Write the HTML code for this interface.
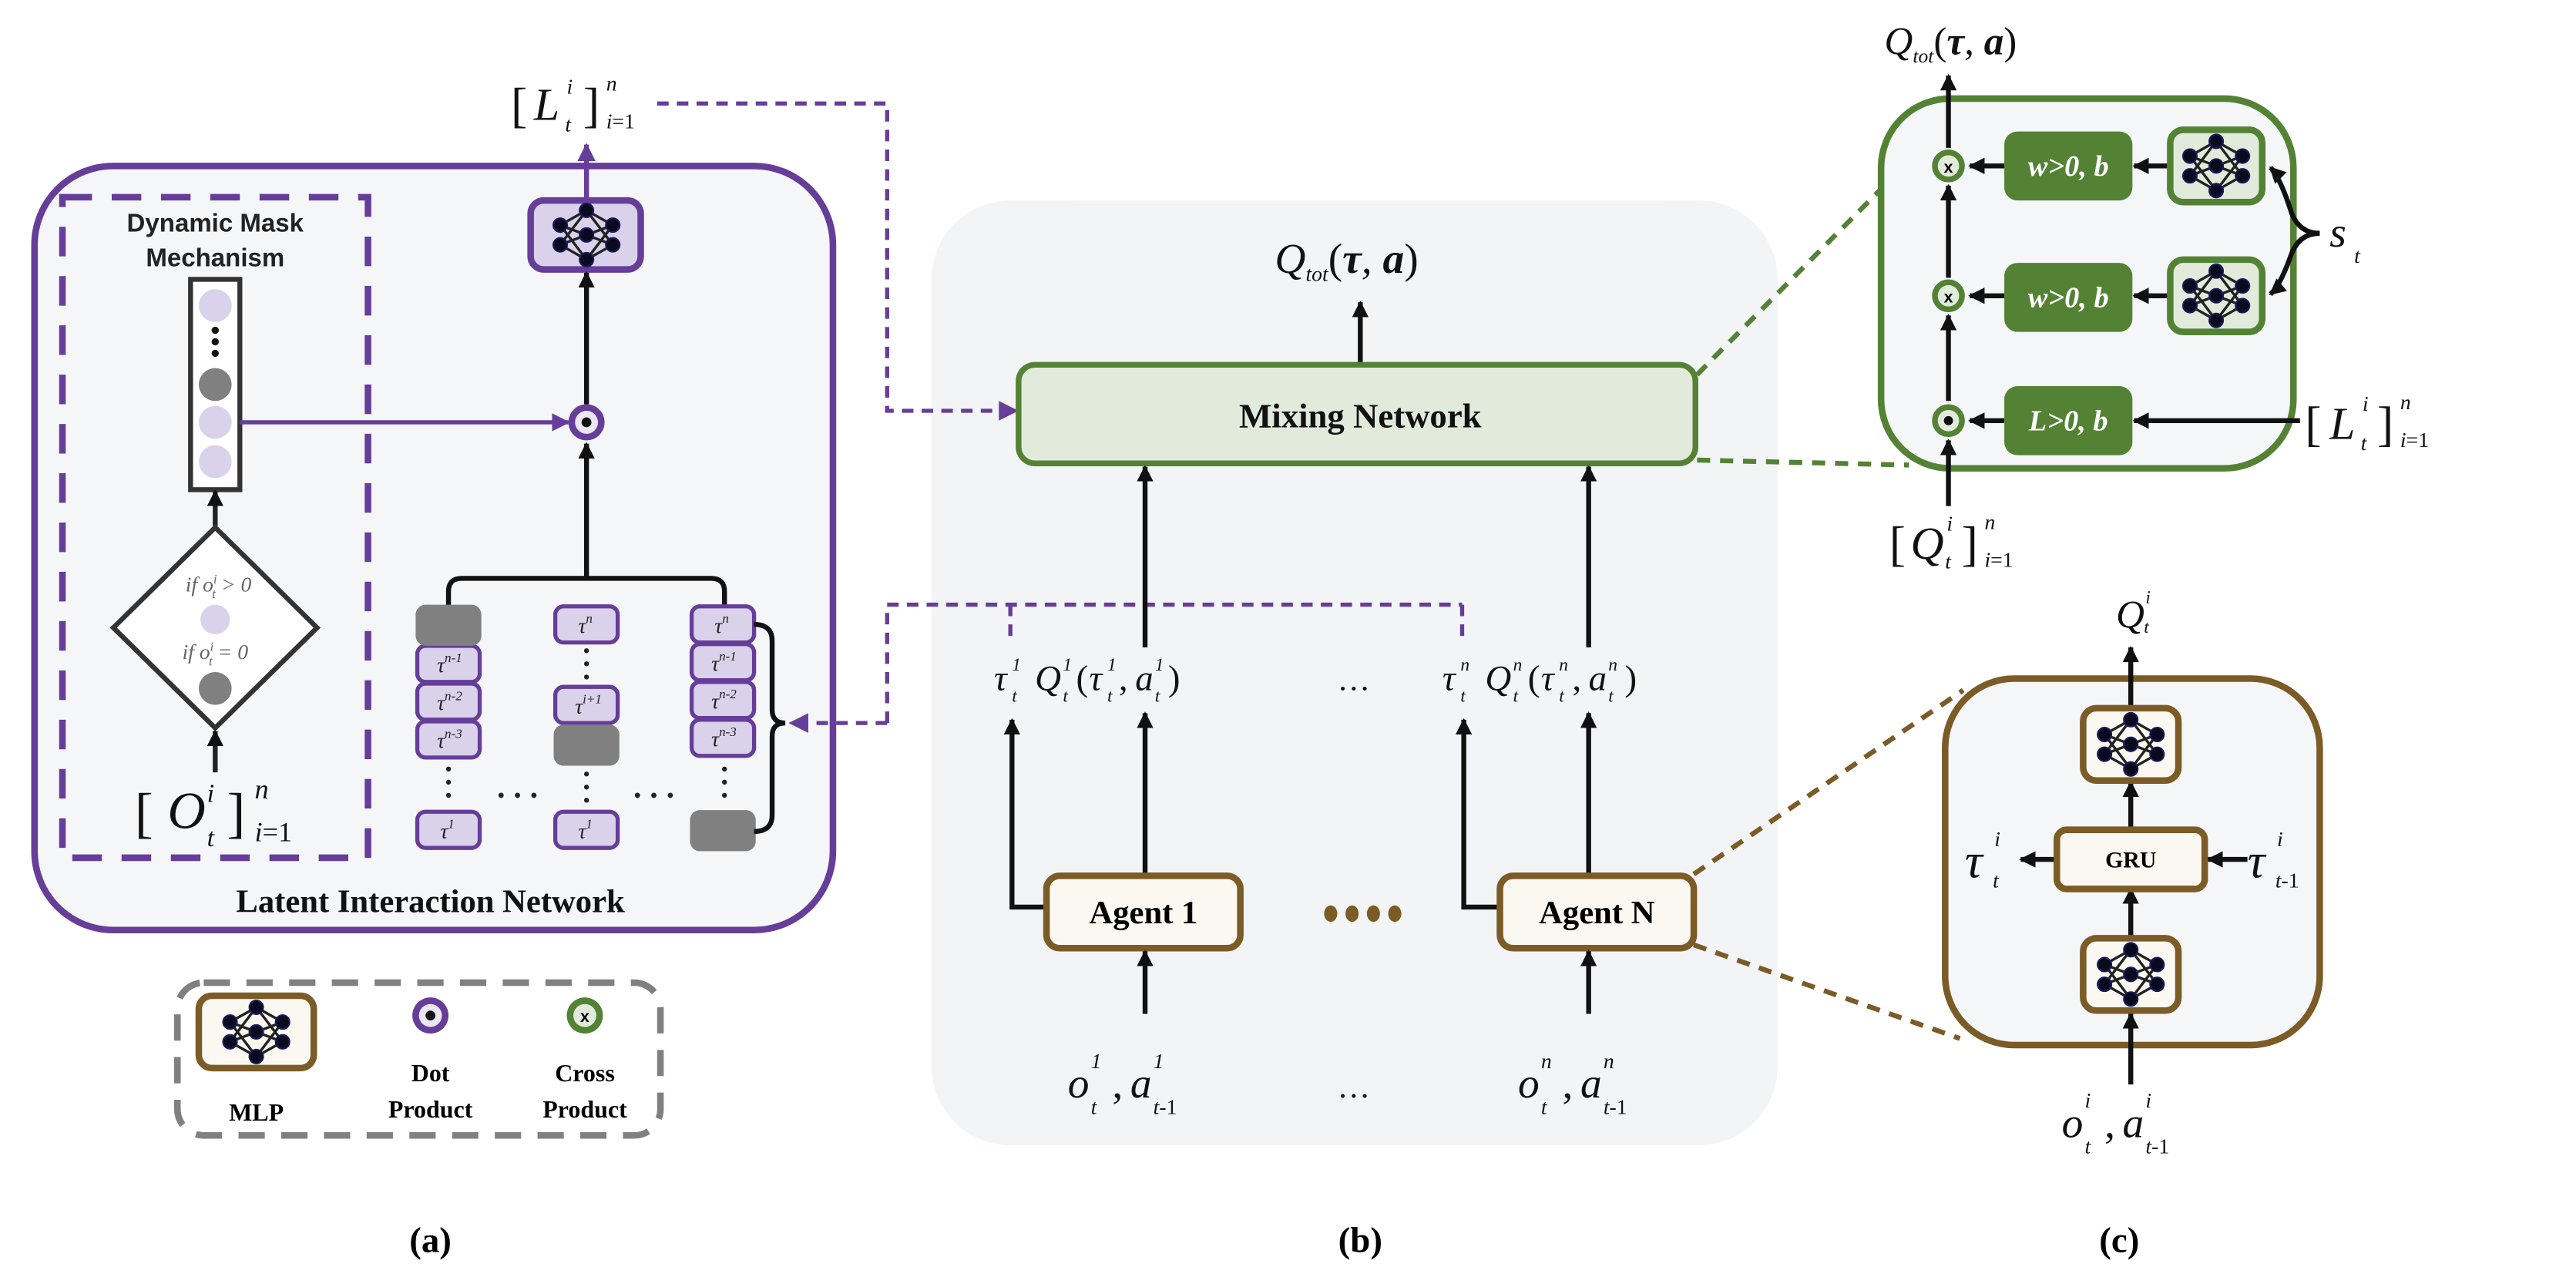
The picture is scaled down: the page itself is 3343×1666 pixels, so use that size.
<!DOCTYPE html>
<html><head><meta charset="utf-8"><style>
html,body{margin:0;padding:0;background:#fff;}
svg{display:block;}
.s{font-family:"Liberation Serif",serif;}
.i{font-family:"Liberation Serif",serif;font-style:italic;}
.b{font-family:"Liberation Serif",serif;font-weight:bold;}
.sans{font-family:"Liberation Sans",sans-serif;font-weight:bold;}
</style></head><body>
<svg width="3343" height="1666" viewBox="0 0 1568 781.4" preserveAspectRatio="none" xmlns="http://www.w3.org/2000/svg">
<defs>
<marker id="ak" markerWidth="10" markerHeight="10" refX="9" refY="5" orient="auto" markerUnits="userSpaceOnUse"><path d="M0,0 L10,5 L0,10 z" fill="#111"/></marker>
<marker id="ap" markerWidth="11" markerHeight="11" refX="10" refY="5.5" orient="auto" markerUnits="userSpaceOnUse"><path d="M0,0 L11,5.5 L0,11 z" fill="#663d99"/></marker>
<g id="nn">
<g stroke="#222" stroke-width="1.6" fill="none">
<path d="M-16,-6 L0,-15 M-16,-6 L0,0 M-16,-6 L0,15 M-16,6 L0,-15 M-16,6 L0,0 M-16,6 L0,15 M16,-6 L0,-15 M16,-6 L0,0 M16,-6 L0,15 M16,6 L0,-15 M16,6 L0,0 M16,6 L0,15"/>
</g>
<g fill="#0a0a1e" stroke="#1a1a5a" stroke-width="1">
<circle cx="-16" cy="-6" r="4.2"/><circle cx="-16" cy="6" r="4.2"/>
<circle cx="0" cy="-15" r="4.2"/><circle cx="0" cy="0" r="4.2"/><circle cx="0" cy="15" r="4.2"/>
<circle cx="16" cy="-6" r="4.2"/><circle cx="16" cy="6" r="4.2"/>
</g>
</g>
</defs>

<!-- ===== Panel (b) background ===== -->
<rect x="567" y="122" width="515" height="575" rx="48" fill="#f3f4f6"/>

<!-- ===== Panel (a) ===== -->
<rect x="21" y="101" width="486" height="465" rx="48" fill="#f5f6f8" stroke="#663d99" stroke-width="4"/>
<rect x="38" y="120" width="186" height="402" fill="none" stroke="#663d99" stroke-width="4" stroke-dasharray="18,12"/>
<text x="131" y="141" text-anchor="middle" class="sans" font-size="15.5" fill="#222">Dynamic Mask</text>
<text x="131" y="162" text-anchor="middle" class="sans" font-size="15.5" fill="#222">Mechanism</text>
<rect x="116" y="170" width="30" height="128" fill="#fff" stroke="#333" stroke-width="3"/>
<circle cx="131" cy="186" r="10" fill="#d9d2ea"/>
<circle cx="131" cy="201" r="2.2" fill="#111"/><circle cx="131" cy="208" r="2.2" fill="#111"/><circle cx="131" cy="215" r="2.2" fill="#111"/>
<circle cx="131" cy="234" r="10" fill="#808080"/>
<circle cx="131" cy="257" r="10" fill="#d9d2ea"/>
<circle cx="131" cy="281" r="10" fill="#d9d2ea"/>
<line x1="146" y1="257" x2="346" y2="257" stroke="#663d99" stroke-width="2.5" marker-end="url(#ap)"/>
<line x1="131" y1="320" x2="131" y2="299" stroke="#222" stroke-width="3" marker-end="url(#ak)"/>
<polygon points="131,321 193,382 131,443 69,382" fill="#fff" stroke="#333" stroke-width="3"/>
<text x="133" y="360" text-anchor="middle" class="i" font-size="13" fill="#666">if o<tspan font-size="8" dy="-5">i</tspan><tspan font-size="8" dy="9" dx="-3">t</tspan><tspan dy="-4"> &gt; 0</tspan></text>
<circle cx="131" cy="377" r="9" fill="#d9d2ea"/>
<text x="131" y="401" text-anchor="middle" class="i" font-size="13" fill="#666">if o<tspan font-size="8" dy="-5">i</tspan><tspan font-size="8" dy="9" dx="-3">t</tspan><tspan dy="-4"> = 0</tspan></text>
<circle cx="131" cy="419" r="10" fill="#808080"/>
<line x1="131" y1="470" x2="131" y2="445" stroke="#222" stroke-width="3" marker-end="url(#ak)"/>
<text x="82" y="506" class="s" font-size="34" fill="#111">[</text>
<text x="102" y="504" class="i" font-size="32" fill="#111">O</text>
<text x="126" y="488" class="i" font-size="16" fill="#111">i</text>
<text x="126" y="515" class="i" font-size="16" fill="#111">t</text>
<text x="138" y="506" class="s" font-size="34" fill="#111">]</text>
<text x="155" y="486" class="i" font-size="17" fill="#111">n</text>
<text x="155" y="512" class="i" font-size="17" fill="#111">i<tspan class="s" font-style="normal">=1</tspan></text>

<rect x="323" y="122" width="67" height="42" rx="8" fill="#d9d2ea" stroke="#663d99" stroke-width="4"/>
<use href="#nn" x="357" y="143"/>
<line x1="357" y1="122" x2="357" y2="88" stroke="#663d99" stroke-width="3" marker-end="url(#ap)"/>
<line x1="357" y1="246" x2="357" y2="166" stroke="#111" stroke-width="3" marker-end="url(#ak)"/>
<circle cx="357" cy="257" r="11" fill="#663d99"/>
<circle cx="357" cy="257" r="7" fill="#ebe5f4"/>
<circle cx="357" cy="257" r="3" fill="#111"/>
<line x1="357" y1="352" x2="357" y2="270" stroke="#111" stroke-width="3" marker-end="url(#ak)"/>
<path d="M273 369 V360 Q273 352 281 352 H433 Q441 352 441 360 V369" fill="none" stroke="#111" stroke-width="3"/>
<text x="311" y="74" class="s" font-size="30" fill="#111">[</text>
<text x="325" y="73" class="i" font-size="28" fill="#111">L</text>
<text x="345" y="57" class="i" font-size="13" fill="#111">i</text>
<text x="344" y="80" class="i" font-size="13" fill="#111">t</text>
<text x="355" y="74" class="s" font-size="30" fill="#111">]</text>
<text x="369" y="55" class="i" font-size="13" fill="#111">n</text>
<text x="369" y="78" class="i" font-size="13" fill="#111">i<tspan class="s" font-style="normal">=1</tspan></text>

<g stroke="#663d99" stroke-width="2.5" fill="#d9d2ea">
<rect x="254" y="393" width="38" height="22" rx="5"/>
<rect x="254" y="416" width="38" height="22" rx="5"/>
<rect x="254" y="439" width="38" height="22" rx="5"/>
<rect x="254" y="494" width="38" height="22" rx="5"/>
<rect x="338" y="369" width="38" height="22" rx="5"/>
<rect x="338" y="418" width="38" height="22" rx="5"/>
<rect x="338" y="494" width="38" height="22" rx="5"/>
<rect x="421" y="369" width="38" height="22" rx="5"/>
<rect x="421" y="392" width="38" height="22" rx="5"/>
<rect x="421" y="415" width="38" height="22" rx="5"/>
<rect x="421" y="438" width="38" height="22" rx="5"/>
</g>
<g fill="#808080">
<rect x="253" y="368" width="40" height="25" rx="6"/>
<rect x="337" y="441" width="40" height="25" rx="6"/>
<rect x="420" y="493" width="40" height="25" rx="6"/>
</g>
<g class="i" font-size="13" fill="#222">
<text x="266" y="409">τ<tspan font-size="8" dy="-6">n-1</tspan></text>
<text x="266" y="432">τ<tspan font-size="8" dy="-6">n-2</tspan></text>
<text x="266" y="455">τ<tspan font-size="8" dy="-6">n-3</tspan></text>
<text x="268" y="510">τ<tspan font-size="8" dy="-6">1</tspan></text>
<text x="352" y="385">τ<tspan font-size="8" dy="-6">n</tspan></text>
<text x="350" y="434">τ<tspan font-size="8" dy="-6">i+1</tspan></text>
<text x="352" y="510">τ<tspan font-size="8" dy="-6">1</tspan></text>
<text x="435" y="385">τ<tspan font-size="8" dy="-6">n</tspan></text>
<text x="433" y="408">τ<tspan font-size="8" dy="-6">n-1</tspan></text>
<text x="433" y="431">τ<tspan font-size="8" dy="-6">n-2</tspan></text>
<text x="433" y="454">τ<tspan font-size="8" dy="-6">n-3</tspan></text>
</g>
<g fill="#222">
<circle cx="273" cy="468" r="1.5"/><circle cx="273" cy="476" r="1.5"/><circle cx="273" cy="484" r="1.5"/>
<circle cx="357" cy="396" r="1.5"/><circle cx="357" cy="404" r="1.5"/><circle cx="357" cy="412" r="1.5"/>
<circle cx="357" cy="471" r="1.5"/><circle cx="357" cy="479" r="1.5"/><circle cx="357" cy="487" r="1.5"/>
<circle cx="441" cy="468" r="1.5"/><circle cx="441" cy="476" r="1.5"/><circle cx="441" cy="484" r="1.5"/>
<circle cx="305" cy="484" r="1.6"/><circle cx="315" cy="484" r="1.6"/><circle cx="325" cy="484" r="1.6"/>
<circle cx="388" cy="484" r="1.6"/><circle cx="398" cy="484" r="1.6"/><circle cx="408" cy="484" r="1.6"/>
</g>
<path d="M459 380 Q470 380 470 390 V432 Q470 440 478 440 Q470 440 470 448 V496 Q470 506 459 506" fill="none" stroke="#111" stroke-width="3"/>
<text x="262" y="555" text-anchor="middle" class="b" font-size="20" fill="#111">Latent Interaction Network</text>

<!-- purple dashed connectors -->
<g fill="none" stroke="#663d99" stroke-width="2.5" stroke-dasharray="7,5">
<path d="M400 63 H540 V250 H610"/>
<path d="M540 440 V368 H890"/>
<path d="M540 440 H486"/>
<path d="M615 368 V392"/>
<path d="M890 368 V392"/>
</g>
<path d="M480 440 L492 434 L492 446 z" fill="#663d99"/>
<path d="M620 250 L608 244 L608 256 z" fill="#663d99"/>

<!-- Legend -->
<rect x="108" y="598" width="294" height="93" rx="16" fill="#fff" stroke="#808080" stroke-width="4" stroke-dasharray="16,10"/>
<rect x="121" y="606" width="70" height="44" rx="8" fill="#fbf8f2" stroke="#7b5b26" stroke-width="4"/>
<use href="#nn" x="156" y="628"/>
<text x="156" y="682" text-anchor="middle" class="b" font-size="15">MLP</text>
<circle cx="262" cy="618" r="11" fill="#663d99"/><circle cx="262" cy="618" r="7" fill="#ebe5f4"/><circle cx="262" cy="618" r="3" fill="#111"/>
<text x="262" y="658" text-anchor="middle" class="b" font-size="15">Dot</text>
<text x="262" y="680" text-anchor="middle" class="b" font-size="15">Product</text>
<circle cx="356" cy="618" r="11" fill="#548235"/><circle cx="356" cy="618" r="7" fill="#e2ebdb"/>
<text x="356" y="622" text-anchor="middle" class="sans" font-size="10">x</text>
<text x="356" y="658" text-anchor="middle" class="b" font-size="15">Cross</text>
<text x="356" y="680" text-anchor="middle" class="b" font-size="15">Product</text>

<text x="262" y="762" text-anchor="middle" class="b" font-size="22">(a)</text>
<text x="828" y="762" text-anchor="middle" class="b" font-size="22">(b)</text>
<text x="1290" y="762" text-anchor="middle" class="b" font-size="22">(c)</text>

<!-- ===== Panel (b) content ===== -->
<text x="776" y="166" class="i" font-size="26" fill="#111">Q<tspan font-size="13" dy="5">tot</tspan><tspan dy="-5" font-style="normal">(</tspan><tspan font-weight="bold">τ</tspan>, <tspan font-weight="bold">a</tspan><tspan font-style="normal">)</tspan></text>
<line x1="828" y1="222" x2="828" y2="184" stroke="#111" stroke-width="3" marker-end="url(#ak)"/>
<rect x="620" y="222" width="412" height="60" rx="10" fill="#e2ebdb" stroke="#548235" stroke-width="3.5"/>
<text x="828" y="260" text-anchor="middle" class="b" font-size="21" fill="#111">Mixing Network</text>
<line x1="697" y1="394" x2="697" y2="284" stroke="#111" stroke-width="3" marker-end="url(#ak)"/>
<line x1="967" y1="394" x2="967" y2="284" stroke="#111" stroke-width="3" marker-end="url(#ak)"/>
<g class="i" fill="#111">
<text x="605" y="420" font-size="22">τ</text><text x="616" y="408" font-size="11" class="s">1</text><text x="616" y="427" font-size="11">t</text>
<text x="630" y="420" font-size="22">Q</text><text x="647" y="408" font-size="11" class="s">1</text><text x="647" y="427" font-size="11">t</text>
<text x="655" y="420" font-size="22" font-style="normal">(</text>
<text x="663" y="420" font-size="22">τ</text><text x="674" y="408" font-size="11" class="s">1</text><text x="674" y="427" font-size="11">t</text>
<text x="681" y="420" font-size="22" font-style="normal">,</text>
<text x="691" y="420" font-size="22">a</text><text x="703" y="408" font-size="11" class="s">1</text><text x="703" y="427" font-size="11">t</text>
<text x="711" y="420" font-size="22" font-style="normal">)</text>
<text x="814" y="420" font-size="20" font-style="normal">…</text>
<text x="878" y="420" font-size="22">τ</text><text x="889" y="408" font-size="11">n</text><text x="889" y="427" font-size="11">t</text>
<text x="904" y="420" font-size="22">Q</text><text x="921" y="408" font-size="11">n</text><text x="921" y="427" font-size="11">t</text>
<text x="930" y="420" font-size="22" font-style="normal">(</text>
<text x="938" y="420" font-size="22">τ</text><text x="949" y="408" font-size="11">n</text><text x="949" y="427" font-size="11">t</text>
<text x="957" y="420" font-size="22" font-style="normal">,</text>
<text x="967" y="420" font-size="22">a</text><text x="979" y="408" font-size="11">n</text><text x="979" y="427" font-size="11">t</text>
<text x="989" y="420" font-size="22" font-style="normal">)</text>
</g>
<path d="M637 552 H616 V438" fill="none" stroke="#111" stroke-width="3" marker-end="url(#ak)"/>
<path d="M913 552 H891 V438" fill="none" stroke="#111" stroke-width="3" marker-end="url(#ak)"/>
<line x1="697" y1="533" x2="697" y2="434" stroke="#111" stroke-width="3" marker-end="url(#ak)"/>
<line x1="967" y1="533" x2="967" y2="434" stroke="#111" stroke-width="3" marker-end="url(#ak)"/>
<rect x="637" y="533" width="118" height="44" rx="8" fill="#fbf8f2" stroke="#7b5b26" stroke-width="4"/>
<rect x="913" y="533" width="118" height="44" rx="8" fill="#fbf8f2" stroke="#7b5b26" stroke-width="4"/>
<text x="696" y="562" text-anchor="middle" class="b" font-size="20">Agent 1</text>
<text x="972" y="562" text-anchor="middle" class="b" font-size="20">Agent N</text>
<g fill="#7b5b26"><ellipse cx="810" cy="556" rx="4" ry="5"/><ellipse cx="823" cy="556" rx="4" ry="5"/><ellipse cx="836" cy="556" rx="4" ry="5"/><ellipse cx="849" cy="556" rx="4" ry="5"/></g>
<line x1="697" y1="617" x2="697" y2="579" stroke="#111" stroke-width="3" marker-end="url(#ak)"/>
<line x1="967" y1="617" x2="967" y2="579" stroke="#111" stroke-width="3" marker-end="url(#ak)"/>
<g class="i" fill="#111">
<text x="650" y="668" font-size="26">o</text><text x="664" y="650" font-size="13" class="s">1</text><text x="664" y="678" font-size="13">t</text>
<text x="677" y="668" font-size="26" font-style="normal">,</text>
<text x="688" y="668" font-size="26">a</text><text x="702" y="650" font-size="13" class="s">1</text><text x="702" y="678" font-size="13">t<tspan font-style="normal">-1</tspan></text>
<text x="814" y="668" font-size="20" font-style="normal">…</text>
<text x="924" y="668" font-size="26">o</text><text x="938" y="650" font-size="13">n</text><text x="938" y="678" font-size="13">t</text>
<text x="951" y="668" font-size="26" font-style="normal">,</text>
<text x="962" y="668" font-size="26">a</text><text x="976" y="650" font-size="13">n</text><text x="976" y="678" font-size="13">t<tspan font-style="normal">-1</tspan></text>
</g>

<g fill="none" stroke-width="3" stroke-dasharray="8,6">
<path d="M1033 228 L1148 112" stroke="#548235"/>
<path d="M1033 280 L1162 283" stroke="#548235"/>
<path d="M1031 532 L1195 420" stroke="#7b5b26"/>
<path d="M1031 575 L1193 632" stroke="#7b5b26"/>
</g>

<!-- ===== Panel (c) top ===== -->
<rect x="1145" y="60" width="251" height="225" rx="42" fill="#f5f6f8" stroke="#548235" stroke-width="4"/>
<text x="1147" y="33" class="i" font-size="24" fill="#111">Q<tspan font-size="12" dy="5">tot</tspan><tspan dy="-5" font-style="normal">(</tspan><tspan font-weight="bold">τ</tspan>, <tspan font-weight="bold">a</tspan><tspan font-style="normal">)</tspan></text>
<g stroke="#111" stroke-width="3" fill="none">
<line x1="1186" y1="308" x2="1186" y2="268" marker-end="url(#ak)"/>
<line x1="1186" y1="244" x2="1186" y2="192" marker-end="url(#ak)"/>
<line x1="1186" y1="169" x2="1186" y2="113" marker-end="url(#ak)"/>
<line x1="1186" y1="90" x2="1186" y2="46" marker-end="url(#ak)"/>
<line x1="1220" y1="101" x2="1199" y2="101" marker-end="url(#ak)"/>
<line x1="1220" y1="180" x2="1199" y2="180" marker-end="url(#ak)"/>
<line x1="1220" y1="256" x2="1199" y2="256" marker-end="url(#ak)"/>
<line x1="1321" y1="101" x2="1299" y2="101" marker-end="url(#ak)"/>
<line x1="1321" y1="180" x2="1299" y2="180" marker-end="url(#ak)"/>
<line x1="1400" y1="256" x2="1299" y2="256" marker-end="url(#ak)"/>
<path d="M1412 142 Q1400 142 1395 130 Q1388 108 1382 102" marker-end="url(#ak)"/>
<path d="M1412 142 Q1400 142 1395 154 Q1388 174 1382 179" marker-end="url(#ak)"/>
</g>
<g fill="#548235">
<rect x="1220" y="80" width="78" height="42" rx="8"/>
<rect x="1220" y="160" width="78" height="42" rx="8"/>
<rect x="1220" y="235" width="78" height="42" rx="8"/>
</g>
<g class="i" font-weight="bold" font-size="18" fill="#fff" text-anchor="middle">
<text x="1259" y="107">w&gt;0, b</text>
<text x="1259" y="187">w&gt;0, b</text>
<text x="1259" y="262">L&gt;0, b</text>
</g>
<rect x="1321" y="79" width="56" height="44" rx="8" fill="#e2ebdb" stroke="#548235" stroke-width="4"/>
<rect x="1321" y="158" width="56" height="44" rx="8" fill="#e2ebdb" stroke="#548235" stroke-width="4"/>
<use href="#nn" x="1349" y="101"/>
<use href="#nn" x="1349" y="180"/>
<circle cx="1186" cy="101" r="10" fill="#548235"/><circle cx="1186" cy="101" r="6.5" fill="#e2ebdb"/>
<circle cx="1186" cy="180" r="10" fill="#548235"/><circle cx="1186" cy="180" r="6.5" fill="#e2ebdb"/>
<circle cx="1186" cy="256" r="10" fill="#548235"/><circle cx="1186" cy="256" r="6.5" fill="#e2ebdb"/>
<circle cx="1186" cy="256" r="2.8" fill="#111"/>
<text x="1186" y="105" text-anchor="middle" class="sans" font-size="10">x</text>
<text x="1186" y="184" text-anchor="middle" class="sans" font-size="10">x</text>
<text x="1418" y="150" class="i" font-size="26" fill="#111">s</text>
<text x="1433" y="160" class="i" font-size="13" fill="#111">t</text>
<text x="1403" y="268" class="s" font-size="30" fill="#111">[</text>
<text x="1418" y="267" class="i" font-size="28" fill="#111">L</text>
<text x="1438" y="250" class="i" font-size="13" fill="#111">i</text>
<text x="1437" y="274" class="i" font-size="13" fill="#111">t</text>
<text x="1447" y="268" class="s" font-size="30" fill="#111">]</text>
<text x="1461" y="249" class="i" font-size="13" fill="#111">n</text>
<text x="1461" y="272" class="i" font-size="13" fill="#111">i<tspan class="s" font-style="normal">=1</tspan></text>
<text x="1150" y="341" class="s" font-size="30" fill="#111">[</text>
<text x="1163" y="340" class="i" font-size="28" fill="#111">Q</text>
<text x="1185" y="323" class="i" font-size="13" fill="#111">i</text>
<text x="1184" y="346" class="i" font-size="13" fill="#111">t</text>
<text x="1194" y="341" class="s" font-size="30" fill="#111">]</text>
<text x="1208" y="322" class="i" font-size="13" fill="#111">n</text>
<text x="1208" y="345" class="i" font-size="13" fill="#111">i<tspan class="s" font-style="normal">=1</tspan></text>

<!-- ===== Panel (c) bottom ===== -->
<rect x="1184" y="413" width="228" height="223" rx="42" fill="#f5f6f8" stroke="#7b5b26" stroke-width="4"/>
<text x="1288" y="382" class="i" font-size="24" fill="#111">Q</text>
<text x="1306" y="367" class="i" font-size="11" fill="#111">i</text>
<text x="1305" y="385" class="i" font-size="11" fill="#111">t</text>
<g stroke="#111" stroke-width="3" fill="none">
<line x1="1297" y1="660" x2="1297" y2="617" marker-end="url(#ak)"/>
<line x1="1297" y1="570" x2="1297" y2="541" marker-end="url(#ak)"/>
<line x1="1297" y1="505" x2="1297" y2="476" marker-end="url(#ak)"/>
<line x1="1297" y1="430" x2="1297" y2="394" marker-end="url(#ak)"/>
<line x1="1252" y1="523" x2="1230" y2="523" marker-end="url(#ak)"/>
<line x1="1368" y1="523" x2="1344" y2="523" marker-end="url(#ak)"/>
</g>
<rect x="1268" y="431" width="58" height="44" rx="8" fill="#fbf8f2" stroke="#7b5b26" stroke-width="4"/>
<rect x="1268" y="571" width="58" height="44" rx="8" fill="#fbf8f2" stroke="#7b5b26" stroke-width="4"/>
<use href="#nn" x="1297" y="453"/>
<use href="#nn" x="1297" y="593"/>
<rect x="1252" y="505" width="90" height="36" rx="6" fill="#fbf8f2" stroke="#7b5b26" stroke-width="4"/>
<text x="1297" y="528" text-anchor="middle" class="b" font-size="14">GRU</text>
<text x="1196" y="534" class="i" font-size="30" fill="#111">τ</text>
<text x="1214" y="515" class="i" font-size="13" fill="#111">i</text>
<text x="1213" y="540" class="i" font-size="13" fill="#111">t</text>
<text x="1368" y="534" class="i" font-size="30" fill="#111">τ</text>
<text x="1386" y="515" class="i" font-size="13" fill="#111">i</text>
<text x="1385" y="540" class="i" font-size="13" fill="#111">t<tspan font-style="normal">-1</tspan></text>
<g class="i" fill="#111">
<text x="1255" y="692" font-size="26">o</text><text x="1269" y="674" font-size="13">i</text><text x="1269" y="702" font-size="13">t</text>
<text x="1281" y="692" font-size="26" font-style="normal">,</text>
<text x="1292" y="692" font-size="26">a</text><text x="1306" y="674" font-size="13">i</text><text x="1306" y="702" font-size="13">t<tspan font-style="normal">-1</tspan></text>
</g>
</svg>
</body></html>
